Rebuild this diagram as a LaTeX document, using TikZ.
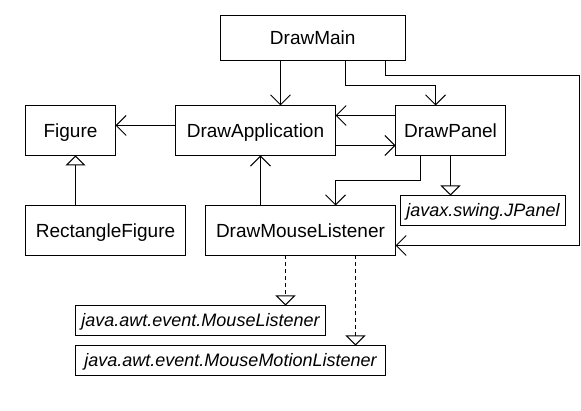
\documentclass[tikz,border=0pt]{standalone}
\usepackage{fontspec}
\setmainfont{Liberation Sans}
\usetikzlibrary{arrows.meta}
\tikzset{
  cls/.style={draw, line width=1pt, inner sep=0pt, outer sep=0pt,
    font=\fontsize{19}{22}\selectfont, text height=13.6pt, text depth=0pt},
  iface/.style={cls, font=\fontsize{18}{21}\selectfont\itshape, text height=12.9pt},
  conn/.style={line width=1pt},
  assoc/.style={conn, -{Straight Barb[length=10pt,width=20pt,line width=1pt]}},
  inherit/.style={conn, -{Triangle[open,length=10pt,width=20pt,line width=1pt]}},
  realize/.style={inherit, dash pattern=on 4pt off 3pt}
}
\begin{document}
\begin{tikzpicture}[x=1pt,y=-1pt]
\useasboundingbox (0,0) rectangle (581,411);
% boxes
\node[cls, minimum width=184.5pt, minimum height=45pt] (dm) at (312.75,38) {DrawMain};
\node[cls, minimum width=90pt, minimum height=50pt] (fig) at (70.5,130.5) {Figure};
\node[cls, minimum width=160pt, minimum height=50pt] (da) at (255.5,130.5) {DrawApplication};
\node[cls, minimum width=110pt, minimum height=50pt] (dp) at (450.5,130.5) {DrawPanel};
\node[cls, minimum width=160pt, minimum height=50pt] (rf) at (105.5,230.5) {RectangleFigure};
\node[cls, minimum width=190pt, minimum height=50pt] (dml) at (300.5,230.5) {DrawMouseListener};
\node[iface, minimum width=165pt, minimum height=30pt] (jp) at (483,210.5) {javax.swing.JPanel};
\node[iface, minimum width=250pt, minimum height=30pt] (ml) at (200.5,320.5) {java.awt.event.MouseListener};
\node[iface, minimum width=310pt, minimum height=30pt] (mml) at (230.5,360.5) {java.awt.event.MouseMotionListener};
% helper columns and rows
\coordinate (c1) at (280.5,0);
\coordinate (c2) at (345.5,0);
\coordinate (c3) at (435.5,0);
\coordinate (c4) at (385.5,0);
\coordinate (c5) at (579.5,0);
\coordinate (c6) at (420.5,0);
\coordinate (c7) at (335.5,0);
\coordinate (c8) at (260.5,0);
\coordinate (c9) at (450.5,0);
\coordinate (c10) at (285.5,0);
\coordinate (c11) at (355.5,0);
\coordinate (c12) at (75.5,0);
\coordinate (r1) at (0,85.5);
\coordinate (r2) at (0,75.5);
\coordinate (r3) at (0,245.5);
\coordinate (r4) at (0,115.5);
\coordinate (r5) at (0,145.5);
\coordinate (r6) at (0,125.5);
\coordinate (r7) at (0,180.5);
% connectors
\draw[assoc] (c1 |- dm.south) -- (c1 |- da.north);
\draw[assoc] (c2 |- dm.south) -- (c2 |- r1) -- (c3 |- r1) -- (c3 |- dp.north);
\draw[assoc] (c4 |- dm.south) -- (c4 |- r2) -- (c5 |- r2) -- (c5 |- r3) -- (dml.east |- r3);
\draw[assoc] (dp.west |- r4) -- (da.east |- r4);
\draw[assoc] (da.east |- r5) -- (dp.west |- r5);
\draw[assoc] (da.west |- r6) -- (fig.east |- r6);
\draw[inherit] (c12 |- rf.north) -- (c12 |- fig.south);
\draw[assoc] (c8 |- dml.north) -- (c8 |- da.south);
\draw[assoc] (c6 |- dp.south) -- (c6 |- r7) -- (c7 |- r7) -- (c7 |- dml.north);
\draw[inherit] (c9 |- dp.south) -- (c9 |- jp.north);
\draw[realize] (c10 |- dml.south) -- (c10 |- ml.north);
\draw[realize] (c11 |- dml.south) -- (c11 |- mml.north);
\end{tikzpicture}
\end{document}
